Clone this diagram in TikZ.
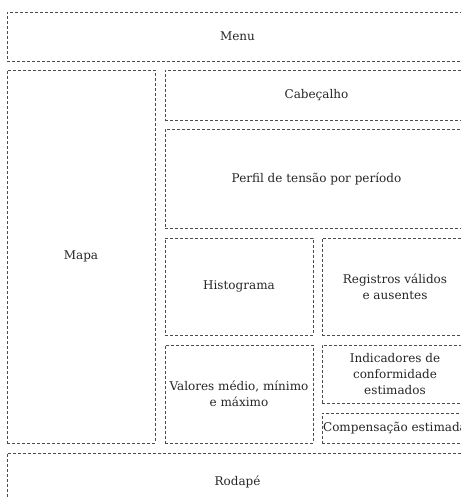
\documentclass[tikz,border=0pt]{standalone}
\usepackage{fontspec}
\setmainfont{DejaVu Serif}
\begin{document}
\begin{tikzpicture}[x=1pt,y=1pt,
  panel/.style={draw=black!70,dash pattern=on 3pt off 2pt,line width=0.7pt,
    rectangle,align=center,inner sep=0pt,font=\fontsize{12}{16}\selectfont,
    text=black!85}]
  \useasboundingbox (0,0) rectangle (461,499);
  \node[panel,minimum width=461,minimum height=49] (menu) at (237.5,462.5) {Menu};
  \node[panel,minimum width=148,minimum height=373] (mapa) at (81,242.5) {Mapa};
  \node[panel,minimum width=303,minimum height=50] (cabecalho) at (316.5,404) {Cabeçalho};
  \node[panel,minimum width=303,minimum height=99] (perfil) at (316.5,320.5) {Perfil de tensão por período};
  \node[panel,minimum width=148,minimum height=97] (histograma) at (239,212.5) {Histograma};
  \node[panel,minimum width=146,minimum height=97] (registros) at (395,212.5) {Registros válidos\\e ausentes};
  \node[panel,minimum width=148,minimum height=98] (valores) at (239,105) {Valores médio, mínimo\\e máximo};
  \node[panel,minimum width=146,minimum height=58] (indicadores) at (395,125) {Indicadores de\\conformidade\\estimados};
  \node[panel,minimum width=146,minimum height=30] (compensacao) at (395,71) {Compensação estimada};
  \node[panel,minimum width=461,minimum height=57] (rodape) at (237.5,17.5) {Rodapé};
\end{tikzpicture}
\end{document}
